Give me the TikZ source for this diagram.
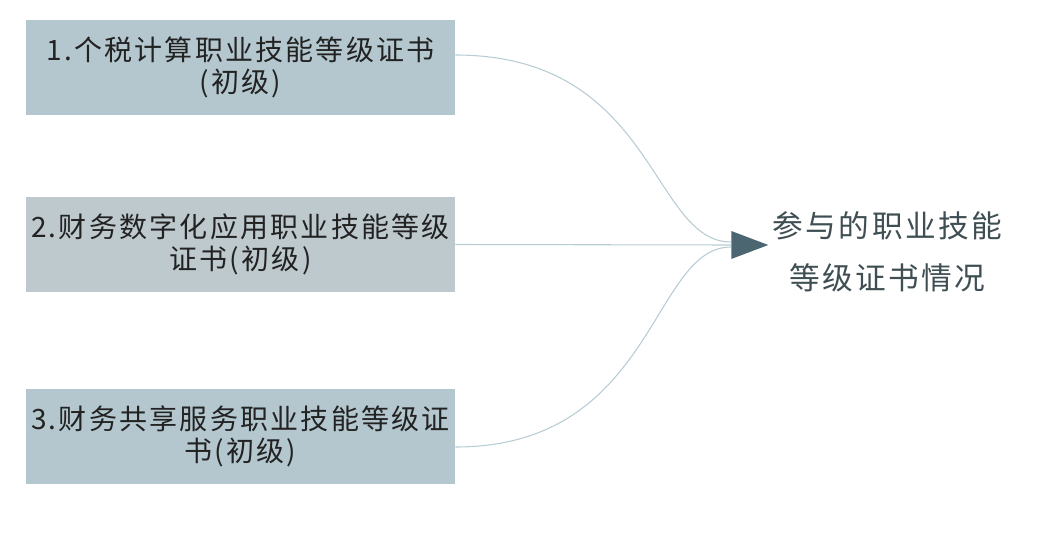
\documentclass[tikz,border=0pt]{standalone}
\usepackage{fontspec}
\newfontfamily\cjk{Noto Sans CJK SC}[LetterSpace=8]
\usetikzlibrary{shapes.geometric}
\definecolor{boxA}{HTML}{B4C7CF}
\definecolor{boxB}{HTML}{BEC9CE}
\definecolor{linkc}{HTML}{B8CCD4}
\definecolor{tipc}{HTML}{4B6670}
\definecolor{txtA}{HTML}{222222}
\definecolor{txtB}{HTML}{3E4E52}
\tikzset{
  srcbox/.style={rectangle, fill=#1, minimum width=429*0.75pt, minimum height=95*0.75pt, inner sep=0,
    align=center, font=\cjk\fontsize{21}{24.5}\selectfont, text=txtA},
  link/.style={draw=linkc, line width=0.8pt},
}
\begin{document}
\begin{tikzpicture}[x=0.75pt,y=-0.75pt]
\useasboundingbox (0,0) rectangle (1053,542);
\node[srcbox=boxA] (b1) at (240.5,67.5) {1.个税计算职业技能等级证书\\(初级)};
\node[srcbox=boxB] (b2) at (240.5,244.5) {2.财务数字化应用职业技能等级\\证书(初级)};
\node[srcbox=boxA] (b3) at (240.5,436.5) {3.财务共享服务职业技能等级证\\书(初级)};
\node[isosceles triangle, isosceles triangle stretches, fill=tipc, inner sep=0,
  minimum width=28*0.75pt, minimum height=37*0.75pt, anchor=west] (tip) at (731,245) {};
\node[font=\cjk\fontsize{23}{39}\selectfont, text=txtB, align=center, anchor=west] (res) at (768,252) {参与的职业技能\\等级证书情况};
\coordinate (s1) at ([yshift=12.5*0.75pt]b1.east);
\coordinate (s3) at ([yshift=-10.5*0.75pt]b3.east);
\coordinate (e1) at ([yshift=3*0.75pt]tip.west);
\coordinate (e3) at ([yshift=-2*0.75pt]tip.west);
\draw[link] (s1) .. controls ([xshift=200*0.75pt]s1) and ([xshift=-80*0.75pt]e1) .. (e1);
\draw[link] (b2.east) -- (tip.west);
\draw[link] (s3) .. controls ([xshift=200*0.75pt]s3) and ([xshift=-80*0.75pt]e3) .. (e3);
\end{tikzpicture}
\end{document}
